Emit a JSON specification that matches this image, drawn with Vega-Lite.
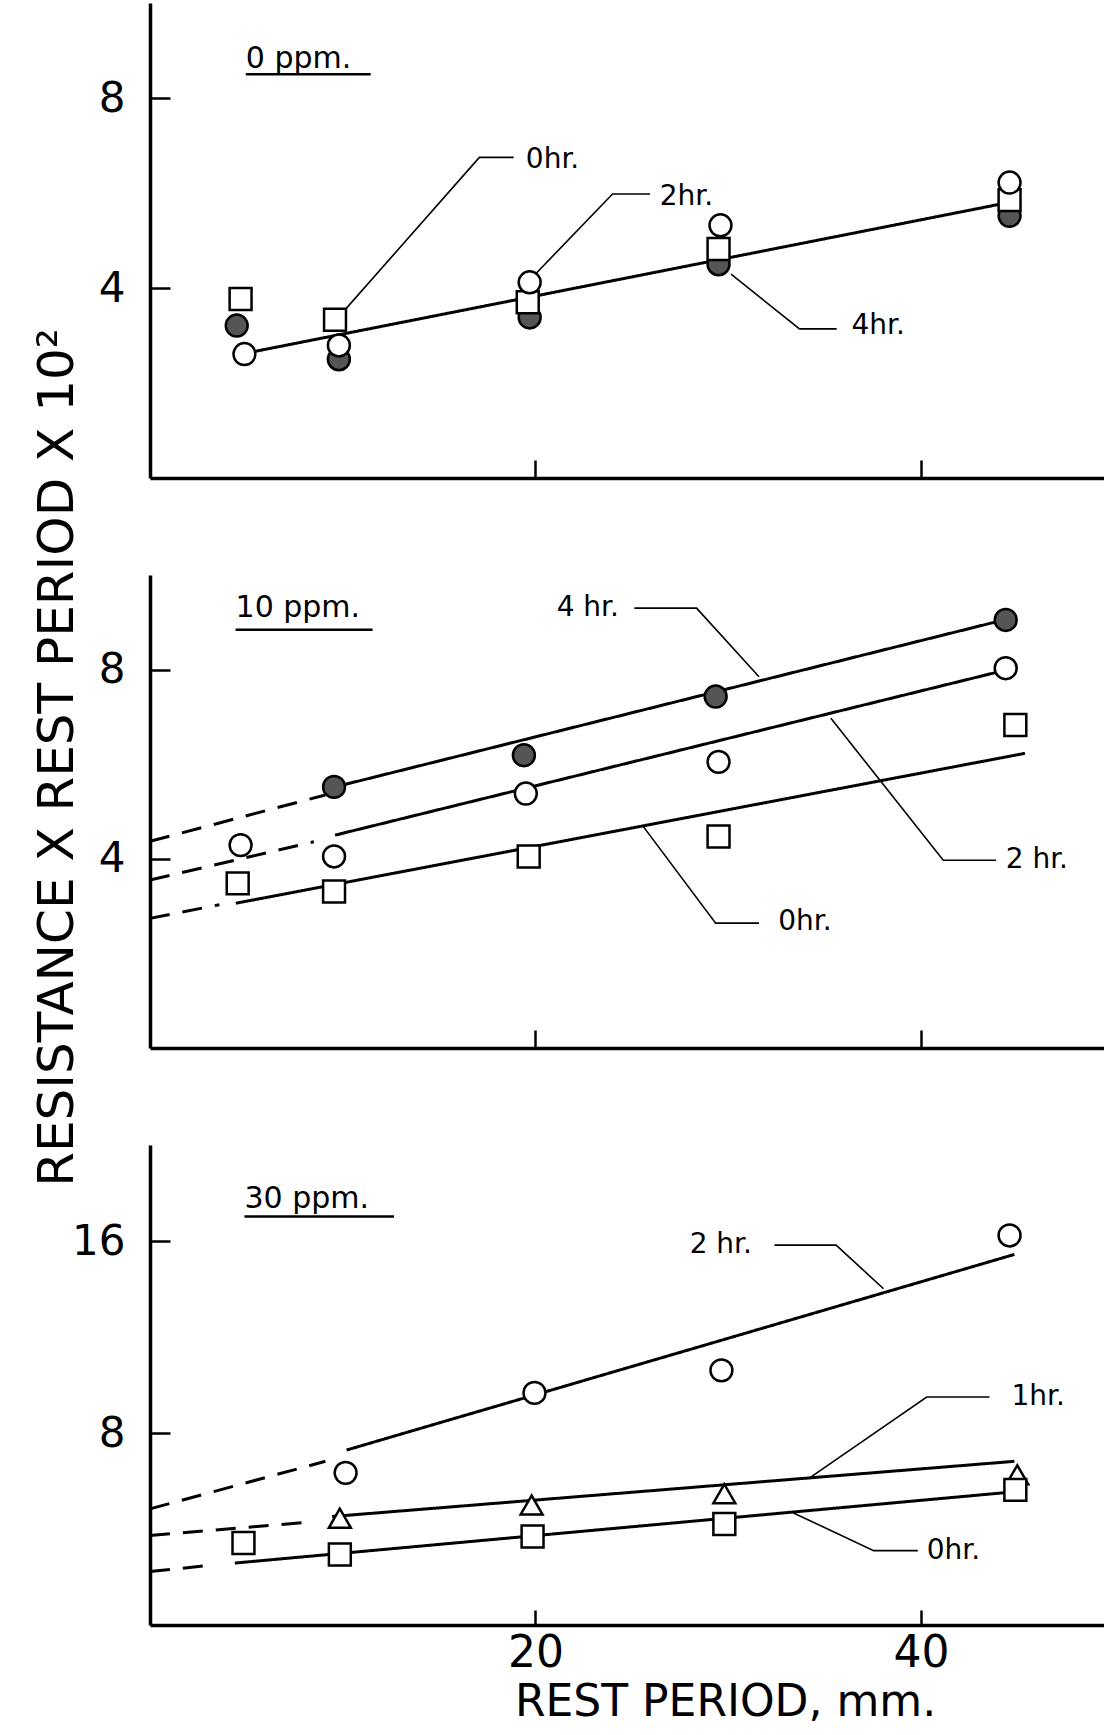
{
  "$schema": "https://vega.github.io/schema/vega-lite/v6.json",
  "background": "white",
  "padding": {"left": 31, "top": 3, "right": 0, "bottom": 0},
  "bounds": "flush",
  "spacing": 97,
  "resolve": {"scale": {"x": "independent", "y": "independent"}},
  "config": {
    "view": {"stroke": null},
    "font": "DejaVu Sans",
    "axis": {
      "grid": false,
      "domainColor": "black",
      "domainWidth": 3.5,
      "tickColor": "black",
      "tickWidth": 2.5,
      "labelColor": "black",
      "labelFont": "DejaVu Sans",
      "labelFontSize": 42,
      "labelFontWeight": "normal",
      "titleColor": "black",
      "titleFont": "DejaVu Sans",
      "titleFontWeight": "normal",
      "titleFontSize": 50
    }
  },
  "datasets": {
    "points": [
      {"panel": "0 ppm", "series": "4 hr", "x": 4.5, "y": 3.21},
      {"panel": "0 ppm", "series": "4 hr", "x": 9.8, "y": 2.5},
      {"panel": "0 ppm", "series": "4 hr", "x": 19.7, "y": 3.38},
      {"panel": "0 ppm", "series": "4 hr", "x": 29.5, "y": 4.5},
      {"panel": "0 ppm", "series": "4 hr", "x": 44.6, "y": 5.52},
      {"panel": "0 ppm", "series": "0 hr", "x": 4.7, "y": 3.77},
      {"panel": "0 ppm", "series": "0 hr", "x": 9.6, "y": 3.33},
      {"panel": "0 ppm", "series": "0 hr", "x": 19.6, "y": 3.7},
      {"panel": "0 ppm", "series": "0 hr", "x": 29.5, "y": 4.82},
      {"panel": "0 ppm", "series": "0 hr", "x": 44.6, "y": 5.85},
      {"panel": "0 ppm", "series": "2 hr", "x": 4.9, "y": 2.61},
      {"panel": "0 ppm", "series": "2 hr", "x": 9.8, "y": 2.79},
      {"panel": "0 ppm", "series": "2 hr", "x": 19.7, "y": 4.12},
      {"panel": "0 ppm", "series": "2 hr", "x": 29.6, "y": 5.32},
      {"panel": "0 ppm", "series": "2 hr", "x": 44.6, "y": 6.22},

      {"panel": "10 ppm", "series": "4 hr", "x": 9.55, "y": 5.52},
      {"panel": "10 ppm", "series": "4 hr", "x": 19.4, "y": 6.19},
      {"panel": "10 ppm", "series": "4 hr", "x": 29.35, "y": 7.43},
      {"panel": "10 ppm", "series": "4 hr", "x": 44.4, "y": 9.05},
      {"panel": "10 ppm", "series": "2 hr", "x": 4.7, "y": 4.29},
      {"panel": "10 ppm", "series": "2 hr", "x": 9.55, "y": 4.05},
      {"panel": "10 ppm", "series": "2 hr", "x": 19.5, "y": 5.38},
      {"panel": "10 ppm", "series": "2 hr", "x": 29.5, "y": 6.05},
      {"panel": "10 ppm", "series": "2 hr", "x": 44.4, "y": 8.03},
      {"panel": "10 ppm", "series": "0 hr", "x": 4.55, "y": 3.48},
      {"panel": "10 ppm", "series": "0 hr", "x": 9.55, "y": 3.31},
      {"panel": "10 ppm", "series": "0 hr", "x": 19.65, "y": 4.05},
      {"panel": "10 ppm", "series": "0 hr", "x": 29.5, "y": 4.47},
      {"panel": "10 ppm", "series": "0 hr", "x": 44.9, "y": 6.83},

      {"panel": "30 ppm", "series": "2 hr", "x": 10.15, "y": 6.34},
      {"panel": "30 ppm", "series": "2 hr", "x": 19.95, "y": 9.67},
      {"panel": "30 ppm", "series": "2 hr", "x": 29.65, "y": 10.61},
      {"panel": "30 ppm", "series": "2 hr", "x": 44.6, "y": 16.23},
      {"panel": "30 ppm", "series": "1 hr", "x": 9.85, "y": 4.45},
      {"panel": "30 ppm", "series": "1 hr", "x": 19.8, "y": 5.0},
      {"panel": "30 ppm", "series": "1 hr", "x": 29.8, "y": 5.47},
      {"panel": "30 ppm", "series": "1 hr", "x": 45.0, "y": 6.26},
      {"panel": "30 ppm", "series": "0 hr", "x": 4.85, "y": 3.42},
      {"panel": "30 ppm", "series": "0 hr", "x": 9.85, "y": 2.94},
      {"panel": "30 ppm", "series": "0 hr", "x": 19.85, "y": 3.69},
      {"panel": "30 ppm", "series": "0 hr", "x": 29.8, "y": 4.21},
      {"panel": "30 ppm", "series": "0 hr", "x": 44.9, "y": 5.63}
    ],
    "fits": [
      {"panel": "0 ppm", "series": "all", "part": "fit", "x": 5.0, "y": 2.63},
      {"panel": "0 ppm", "series": "all", "part": "fit", "x": 44.3, "y": 5.78},

      {"panel": "10 ppm", "series": "4 hr", "part": "fit", "x": 9.6, "y": 5.52},
      {"panel": "10 ppm", "series": "4 hr", "part": "fit", "x": 44.3, "y": 9.05},
      {"panel": "10 ppm", "series": "4 hr", "part": "extrapolated", "x": 0, "y": 4.37},
      {"panel": "10 ppm", "series": "4 hr", "part": "extrapolated", "x": 9.1, "y": 5.35},
      {"panel": "10 ppm", "series": "2 hr", "part": "fit", "x": 9.6, "y": 4.5},
      {"panel": "10 ppm", "series": "2 hr", "part": "fit", "x": 44.3, "y": 7.98},
      {"panel": "10 ppm", "series": "2 hr", "part": "extrapolated", "x": 0, "y": 3.55},
      {"panel": "10 ppm", "series": "2 hr", "part": "extrapolated", "x": 8.5, "y": 4.36},
      {"panel": "10 ppm", "series": "0 hr", "part": "fit", "x": 4.45, "y": 3.06},
      {"panel": "10 ppm", "series": "0 hr", "part": "fit", "x": 45.4, "y": 6.23},
      {"panel": "10 ppm", "series": "0 hr", "part": "extrapolated", "x": 0, "y": 2.74},
      {"panel": "10 ppm", "series": "0 hr", "part": "extrapolated", "x": 3.6, "y": 3.03},

      {"panel": "30 ppm", "series": "2 hr", "part": "fit", "x": 10.2, "y": 7.29},
      {"panel": "30 ppm", "series": "2 hr", "part": "fit", "x": 44.85, "y": 15.44},
      {"panel": "30 ppm", "series": "2 hr", "part": "extrapolated", "x": 0, "y": 4.84},
      {"panel": "30 ppm", "series": "2 hr", "part": "extrapolated", "x": 9.1, "y": 6.82},
      {"panel": "30 ppm", "series": "1 hr", "part": "fit", "x": 9.45, "y": 4.52},
      {"panel": "30 ppm", "series": "1 hr", "part": "fit", "x": 44.85, "y": 6.82},
      {"panel": "30 ppm", "series": "1 hr", "part": "extrapolated", "x": 0, "y": 3.73},
      {"panel": "30 ppm", "series": "1 hr", "part": "extrapolated", "x": 8.3, "y": 4.29},
      {"panel": "30 ppm", "series": "0 hr", "part": "fit", "x": 4.4, "y": 2.58},
      {"panel": "30 ppm", "series": "0 hr", "part": "fit", "x": 44.85, "y": 5.55},
      {"panel": "30 ppm", "series": "0 hr", "part": "extrapolated", "x": 0, "y": 2.23},
      {"panel": "30 ppm", "series": "0 hr", "part": "extrapolated", "x": 3.3, "y": 2.5}
    ],
    "leaders": [
      {"panel": "0 ppm", "label": "0hr.", "step": 0, "x": 18.87, "y": 6.75},
      {"panel": "0 ppm", "label": "0hr.", "step": 1, "x": 17.09, "y": 6.75},
      {"panel": "0 ppm", "label": "0hr.", "step": 2, "x": 10.16, "y": 3.56},
      {"panel": "0 ppm", "label": "2hr.", "step": 0, "x": 25.95, "y": 5.98},
      {"panel": "0 ppm", "label": "2hr.", "step": 1, "x": 24.0, "y": 5.98},
      {"panel": "0 ppm", "label": "2hr.", "step": 2, "x": 19.99, "y": 4.29},
      {"panel": "0 ppm", "label": "4hr.", "step": 0, "x": 35.63, "y": 3.14},
      {"panel": "0 ppm", "label": "4hr.", "step": 1, "x": 33.7, "y": 3.14},
      {"panel": "0 ppm", "label": "4hr.", "step": 2, "x": 30.15, "y": 4.29},

      {"panel": "10 ppm", "label": "4 hr.", "step": 0, "x": 25.13, "y": 9.3},
      {"panel": "10 ppm", "label": "4 hr.", "step": 1, "x": 28.36, "y": 9.3},
      {"panel": "10 ppm", "label": "4 hr.", "step": 2, "x": 31.6, "y": 7.85},
      {"panel": "10 ppm", "label": "2 hr.", "step": 0, "x": 43.9, "y": 3.97},
      {"panel": "10 ppm", "label": "2 hr.", "step": 1, "x": 41.16, "y": 3.97},
      {"panel": "10 ppm", "label": "2 hr.", "step": 2, "x": 35.33, "y": 6.97},
      {"panel": "10 ppm", "label": "0hr.", "step": 0, "x": 31.6, "y": 2.64},
      {"panel": "10 ppm", "label": "0hr.", "step": 1, "x": 29.35, "y": 2.64},
      {"panel": "10 ppm", "label": "0hr.", "step": 2, "x": 25.6, "y": 4.68},

      {"panel": "30 ppm", "label": "2 hr.", "step": 0, "x": 32.4, "y": 15.83},
      {"panel": "30 ppm", "label": "2 hr.", "step": 1, "x": 35.6, "y": 15.83},
      {"panel": "30 ppm", "label": "2 hr.", "step": 2, "x": 38.06, "y": 14.01},
      {"panel": "30 ppm", "label": "1hr.", "step": 0, "x": 43.56, "y": 9.5},
      {"panel": "30 ppm", "label": "1hr.", "step": 1, "x": 40.3, "y": 9.5},
      {"panel": "30 ppm", "label": "1hr.", "step": 2, "x": 34.17, "y": 6.1},
      {"panel": "30 ppm", "label": "0hr.", "step": 0, "x": 39.84, "y": 3.1},
      {"panel": "30 ppm", "label": "0hr.", "step": 1, "x": 37.55, "y": 3.1},
      {"panel": "30 ppm", "label": "0hr.", "step": 2, "x": 33.36, "y": 4.68}
    ],
    "labels": [
      {"panel": "0 ppm", "text": "0hr.", "x": 19.5, "y": 6.7},
      {"panel": "0 ppm", "text": "2hr.", "x": 26.45, "y": 5.92},
      {"panel": "0 ppm", "text": "4hr.", "x": 36.4, "y": 3.2},
      {"panel": "10 ppm", "text": "4 hr.", "x": 21.1, "y": 9.3},
      {"panel": "10 ppm", "text": "2 hr.", "x": 44.4, "y": 3.98},
      {"panel": "10 ppm", "text": "0hr.", "x": 32.6, "y": 2.66},
      {"panel": "30 ppm", "text": "2 hr.", "x": 28.0, "y": 15.83},
      {"panel": "30 ppm", "text": "1hr.", "x": 44.7, "y": 9.5},
      {"panel": "30 ppm", "text": "0hr.", "x": 40.3, "y": 3.1}
    ],
    "titles": [
      {"panel": "0 ppm", "text": "0 ppm.", "x": 4.97, "y": 8.82, "x2": 11.45, "yu": 8.5},
      {"panel": "10 ppm", "text": "10 ppm.", "x": 4.44, "y": 9.3, "x2": 11.55, "yu": 8.84},
      {"panel": "30 ppm", "text": "30 ppm.", "x": 4.9, "y": 17.73, "x2": 12.66, "yu": 17.02}
    ]
  },
  "vconcat": [
    {
      "width": 954,
      "height": 475,
      "encoding": {
        "x": {"field": "x", "type": "quantitative", "title": null,
              "scale": {"domain": [0, 49.5], "nice": false, "zero": false},
              "axis": {"values": [20, 40], "labels": false, "tickSize": -18}},
        "y": {"field": "y", "type": "quantitative", "title": null,
              "scale": {"domain": [0, 10], "nice": false, "zero": false},
              "axis": {"values": [4, 8], "tickSize": -20, "labelPadding": 45}}
      },
      "layer": [
        {"data": {"name": "fits"}, "transform": [{"filter": "datum.panel === '0 ppm'"}],
         "mark": {"type": "line", "color": "black", "strokeWidth": 3},
         "encoding": {"detail": {"field": "series"},
                      "strokeDash": {"field": "part", "type": "nominal", "legend": null,
                                     "scale": {"domain": ["fit", "extrapolated"], "range": [[1, 0], [20, 13]]}}}},
        {"data": {"name": "leaders"}, "transform": [{"filter": "datum.panel === '0 ppm'"}],
         "mark": {"type": "line", "color": "black", "strokeWidth": 1.6},
         "encoding": {"detail": {"field": "label"}, "order": {"field": "step", "type": "quantitative"}}},
        {"data": {"name": "points"}, "transform": [{"filter": "datum.panel === '0 ppm'"}],
         "mark": {"type": "point", "filled": true, "size": 480, "stroke": "black", "strokeWidth": 2.5, "opacity": 1},
         "encoding": {
           "shape": {"field": "series", "type": "nominal", "legend": null,
                     "scale": {"domain": ["0 hr", "1 hr", "2 hr", "4 hr"], "range": ["square", "triangle-up", "circle", "circle"]}},
           "fill": {"field": "series", "type": "nominal", "legend": null,
                    "scale": {"domain": ["0 hr", "1 hr", "2 hr", "4 hr"], "range": ["white", "white", "white", "#555555"]}}}},
        {"data": {"name": "labels"}, "transform": [{"filter": "datum.panel === '0 ppm'"}],
         "mark": {"type": "text", "align": "left", "baseline": "middle", "fontSize": 28, "color": "black", "font": "DejaVu Sans"},
         "encoding": {"text": {"field": "text"}}},
        {"data": {"name": "titles"}, "transform": [{"filter": "datum.panel === '0 ppm'"}],
         "mark": {"type": "text", "align": "left", "baseline": "middle", "fontSize": 30, "color": "black", "font": "DejaVu Sans"},
         "encoding": {"text": {"field": "text"}}},
        {"data": {"name": "titles"}, "transform": [{"filter": "datum.panel === '0 ppm'"}],
         "mark": {"type": "rule", "color": "black", "strokeWidth": 2.5},
         "encoding": {"x2": {"field": "x2"}, "y": {"field": "yu", "type": "quantitative"}}}
      ]
    },
    {
      "width": 954,
      "height": 473,
      "encoding": {
        "x": {"field": "x", "type": "quantitative", "title": null,
              "scale": {"domain": [0, 49.5], "nice": false, "zero": false},
              "axis": {"values": [20, 40], "labels": false, "tickSize": -18}},
        "y": {"field": "y", "type": "quantitative",
              "scale": {"domain": [0, 10], "nice": false, "zero": false},
              "axis": {"values": [4, 8], "tickSize": -20, "labelPadding": 45,
                       "title": "RESISTANCE X REST PERIOD X 10²",
                       "titleX": -93, "titleY": 182, "titleAngle": -90,
                       "titleAlign": "center", "titleBaseline": "middle"}}
      },
      "layer": [
        {"data": {"name": "fits"}, "transform": [{"filter": "datum.panel === '10 ppm'"}],
         "mark": {"type": "line", "color": "black", "strokeWidth": 3},
         "encoding": {"detail": {"field": "series"},
                      "strokeDash": {"field": "part", "type": "nominal", "legend": null,
                                     "scale": {"domain": ["fit", "extrapolated"], "range": [[1, 0], [20, 13]]}}}},
        {"data": {"name": "leaders"}, "transform": [{"filter": "datum.panel === '10 ppm'"}],
         "mark": {"type": "line", "color": "black", "strokeWidth": 1.6},
         "encoding": {"detail": {"field": "label"}, "order": {"field": "step", "type": "quantitative"}}},
        {"data": {"name": "points"}, "transform": [{"filter": "datum.panel === '10 ppm'"}],
         "mark": {"type": "point", "filled": true, "size": 480, "stroke": "black", "strokeWidth": 2.5, "opacity": 1},
         "encoding": {
           "shape": {"field": "series", "type": "nominal", "legend": null,
                     "scale": {"domain": ["0 hr", "1 hr", "2 hr", "4 hr"], "range": ["square", "triangle-up", "circle", "circle"]}},
           "fill": {"field": "series", "type": "nominal", "legend": null,
                    "scale": {"domain": ["0 hr", "1 hr", "2 hr", "4 hr"], "range": ["white", "white", "white", "#555555"]}}}},
        {"data": {"name": "labels"}, "transform": [{"filter": "datum.panel === '10 ppm'"}],
         "mark": {"type": "text", "align": "left", "baseline": "middle", "fontSize": 28, "color": "black", "font": "DejaVu Sans"},
         "encoding": {"text": {"field": "text"}}},
        {"data": {"name": "titles"}, "transform": [{"filter": "datum.panel === '10 ppm'"}],
         "mark": {"type": "text", "align": "left", "baseline": "middle", "fontSize": 30, "color": "black", "font": "DejaVu Sans"},
         "encoding": {"text": {"field": "text"}}},
        {"data": {"name": "titles"}, "transform": [{"filter": "datum.panel === '10 ppm'"}],
         "mark": {"type": "rule", "color": "black", "strokeWidth": 2.5},
         "encoding": {"x2": {"field": "x2"}, "y": {"field": "yu", "type": "quantitative"}}}
      ]
    },
    {
      "width": 954,
      "height": 480,
      "encoding": {
        "x": {"field": "x", "type": "quantitative",
              "scale": {"domain": [0, 49.5], "nice": false, "zero": false},
              "axis": {"values": [20, 40], "tickSize": -15, "labelPadding": 21, "labelFontSize": 44,
                       "title": "REST PERIOD, mm.", "titleX": 575, "titleY": 77, "titleFontSize": 44,
                       "titleAlign": "center", "titleBaseline": "middle"}},
        "y": {"field": "y", "type": "quantitative", "title": null,
              "scale": {"domain": [0, 20], "nice": false, "zero": false},
              "axis": {"values": [8, 16], "tickSize": -20, "labelPadding": 45}}
      },
      "layer": [
        {"data": {"name": "fits"}, "transform": [{"filter": "datum.panel === '30 ppm'"}],
         "mark": {"type": "line", "color": "black", "strokeWidth": 3},
         "encoding": {"detail": {"field": "series"},
                      "strokeDash": {"field": "part", "type": "nominal", "legend": null,
                                     "scale": {"domain": ["fit", "extrapolated"], "range": [[1, 0], [20, 13]]}}}},
        {"data": {"name": "leaders"}, "transform": [{"filter": "datum.panel === '30 ppm'"}],
         "mark": {"type": "line", "color": "black", "strokeWidth": 1.6},
         "encoding": {"detail": {"field": "label"}, "order": {"field": "step", "type": "quantitative"}}},
        {"data": {"name": "points"}, "transform": [{"filter": "datum.panel === '30 ppm'"}],
         "mark": {"type": "point", "filled": true, "size": 480, "stroke": "black", "strokeWidth": 2.5, "opacity": 1},
         "encoding": {
           "shape": {"field": "series", "type": "nominal", "legend": null,
                     "scale": {"domain": ["0 hr", "1 hr", "2 hr", "4 hr"], "range": ["square", "triangle-up", "circle", "circle"]}},
           "fill": {"field": "series", "type": "nominal", "legend": null,
                    "scale": {"domain": ["0 hr", "1 hr", "2 hr", "4 hr"], "range": ["white", "white", "white", "#555555"]}}}},
        {"data": {"name": "labels"}, "transform": [{"filter": "datum.panel === '30 ppm'"}],
         "mark": {"type": "text", "align": "left", "baseline": "middle", "fontSize": 28, "color": "black", "font": "DejaVu Sans"},
         "encoding": {"text": {"field": "text"}}},
        {"data": {"name": "titles"}, "transform": [{"filter": "datum.panel === '30 ppm'"}],
         "mark": {"type": "text", "align": "left", "baseline": "middle", "fontSize": 30, "color": "black", "font": "DejaVu Sans"},
         "encoding": {"text": {"field": "text"}}},
        {"data": {"name": "titles"}, "transform": [{"filter": "datum.panel === '30 ppm'"}],
         "mark": {"type": "rule", "color": "black", "strokeWidth": 2.5},
         "encoding": {"x2": {"field": "x2"}, "y": {"field": "yu", "type": "quantitative"}}}
      ]
    }
  ]
}
